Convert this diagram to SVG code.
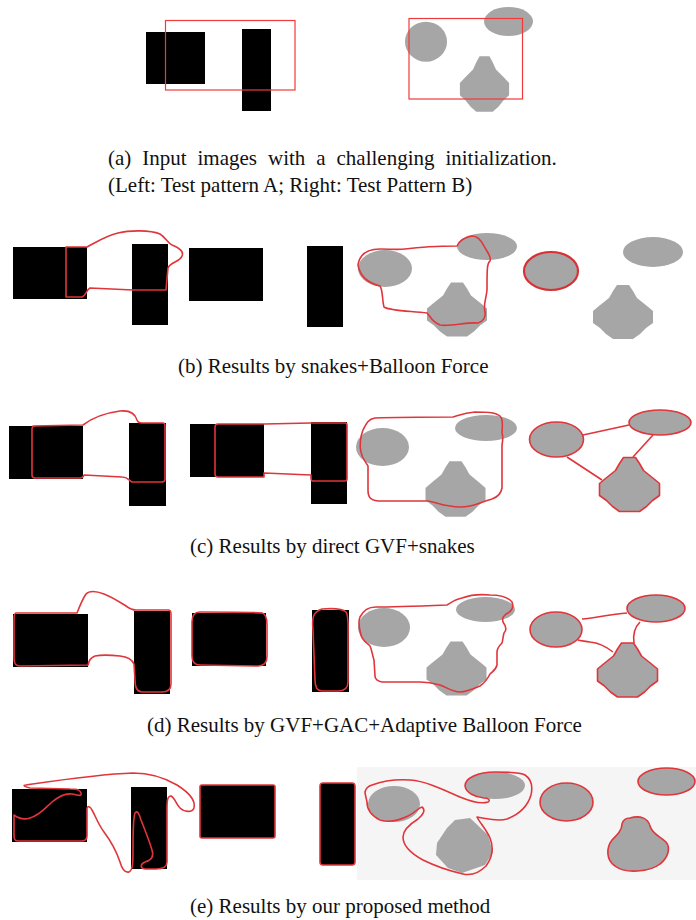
<svg xmlns="http://www.w3.org/2000/svg" width="696" height="920" viewBox="0 0 696 920">
<defs>
<style>
.blk{fill:#000}
.gry{fill:#a6a6a6}
.rc{fill:none;stroke:#e0353a;stroke-width:1.6;stroke-linejoin:round}
.rt{fill:none;stroke:#d93036;stroke-width:2.2;stroke-linejoin:round}
.cap{font-family:"Liberation Serif","Times New Roman",serif;font-size:21px;fill:#111}
</style>
<path id="dia" d="M-6,-27 L6,-27 L10,-21 L14,-14 L24,-6 L30,-1 L30,11 L23,16 L17,22 L10,27 L-10,27 L-17,22 L-23,16 L-30,11 L-30,-1 L-24,-6 L-14,-14 L-10,-21 Z"/>
</defs>
<rect width="696" height="920" fill="#fff"/>

<!-- Row a -->
<g id="a-left">
<rect class="blk" x="146" y="32" width="59" height="52"/>
<rect class="blk" x="242" y="29" width="29" height="82"/>
<rect x="165.5" y="20.5" width="129.5" height="69.5" fill="none" stroke="#f03a3a" stroke-width="1.2"/>
</g>
<g id="a-right">
<ellipse class="gry" cx="426" cy="41.7" rx="21" ry="20"/>
<ellipse class="gry" cx="508.5" cy="21.5" rx="24.5" ry="14.5"/>
<use href="#dia" class="gry" transform="translate(484.5,84) scale(0.82,1.03)"/>
<rect x="409" y="18.5" width="113.5" height="80.5" fill="none" stroke="#f03a3a" stroke-width="1.2"/>
</g>
<text class="cap" x="108" y="165" word-spacing="5.7">(a) Input images with a challenging initialization.</text>
<text class="cap" x="108" y="192">(Left: Test pattern A; Right: Test Pattern B)</text>

<!-- Row b -->
<g id="b1">
<rect class="blk" x="13" y="247" width="74" height="52"/>
<rect class="blk" x="132" y="244" width="36" height="81"/>
<path class="rc" d="M66,247 L87,247 C95,243 105,236 118,233 C130,230 150,230 160,234 C166,238 168,243 172,245 C180,248 184,252 182,256 C180,262 170,262 168,268 L166,290 L133,290 L90,288 C86,290 86,296 82,297 L66,297 Z"/>
</g>
<g id="b2">
<rect class="blk" x="189" y="248" width="74" height="53"/>
<rect class="blk" x="307" y="246" width="36" height="81"/>
</g>
<g id="b3">
<ellipse class="gry" cx="385" cy="268.5" rx="27" ry="18.5"/>
<ellipse class="gry" cx="487" cy="246.5" rx="30" ry="13.5"/>
<use href="#dia" class="gry" transform="translate(457,309.5)"/>
<path class="rc" d="M358,265 C360,252 370,249 380,249 C390,249 398,250 405,249 C420,247 445,246 457,246 C460,240 465,237 472,236 C478,236 481,240 484,246 C487,252 492,257 490,261 C487,263 487,270 487,290 C486,300 483,305 485,312 C486,318 482,322 478,323 C465,322 450,327 440,325 C432,322 430,316 427,313 C410,311 390,311 384,307 C382,300 383,290 380,286 C368,283 360,277 358,265 Z"/>
</g>
<g id="b4">
<ellipse class="gry" cx="551" cy="271" rx="27" ry="19"/>
<ellipse class="rt" cx="551" cy="271" rx="27" ry="19"/>
<ellipse class="gry" cx="653" cy="252" rx="30" ry="15"/>
<use href="#dia" class="gry" transform="translate(623,312)"/>
</g>
<text class="cap" x="178" y="373">(b) Results by snakes+Balloon Force</text>

<!-- Row c -->
<g id="c1">
<rect class="blk" x="9" y="426" width="74" height="53"/>
<rect class="blk" x="129" y="423" width="37" height="83"/>
<path class="rc" d="M33,426 L83,425 C92,418 105,413 120,411 C130,410 135,413 137,420 C138,423 140,423 142,423 L163,423 Q165,423 165,426 L165,479 Q165,482 162,482 L132,482 C128,480 128,477 122,477 L84,475 Q83,478 80,478 L35,478 Q32,478 32,475 L32,429 Q32,426 35,426 Z"/>
</g>
<g id="c2">
<rect class="blk" x="190" y="424" width="74" height="53"/>
<rect class="blk" x="311" y="422" width="36" height="82"/>
<path class="rc" d="M218,424 L264,424 L311,423 L345,423 Q347,423 347,425 L347,479 Q347,481 345,481 L313,481 Q311,481 311,478 L311,475 L264,473 L264,477 L218,477 Q215,477 215,474 L215,427 Q215,424 218,424 Z"/>
</g>
<g id="c3">
<ellipse class="gry" cx="382.5" cy="447" rx="26.5" ry="19"/>
<ellipse class="gry" cx="486" cy="428" rx="31" ry="13"/>
<use href="#dia" class="gry" transform="translate(455.5,489) scale(1,1.03)"/>
<path class="rc" d="M375,418 C400,417 430,417 453,417 C460,415 465,413 475,412 C485,412 495,412 500,416 C504,420 502,428 502,433 C503,436 503,440 502,445 L502,488 C501,494 498,497 492,499 C488,500 485,501 480,503 C470,507 460,508 450,506 C440,505 435,502 428,501 L378,501 C370,500 368,497 368,490 L368,466 C366,462 362,459 361,452 C359,445 361,435 363,430 C366,424 368,419 375,418 Z"/>
</g>
<g id="c4">
<ellipse class="gry" cx="556.5" cy="439.5" rx="27" ry="17.5"/>
<ellipse class="gry" cx="660" cy="422.5" rx="31" ry="12.5"/>
<use href="#dia" class="gry" transform="translate(629.5,484.5)"/>
<ellipse class="rc" cx="556.5" cy="439.5" rx="27" ry="17.5" stroke-width="2"/>
<ellipse class="rc" cx="660" cy="422.5" rx="31" ry="12.5" stroke-width="2"/>
<use href="#dia" class="rc" stroke-width="2" transform="translate(629.5,484.5)"/>
<path class="rc" d="M583,435 L629,425 M653,435 L633,457 M602,480 L567,457"/>
</g>
<text class="cap" x="190" y="553">(c) Results by direct GVF+snakes</text>

<!-- Row d -->
<g id="d1">
<rect class="blk" x="13" y="614" width="75" height="53"/>
<rect class="blk" x="134" y="611" width="36" height="83"/>
<path class="rc" d="M16,613 L77,613 C79,608 82,600 86,594 C90,590 96,591 104,594 C112,597 118,601 126,606 C130,609 132,610 136,610 L168,610 Q171,610 171,614 L171,684 C171,690 168,692 162,692 L142,692 C137,692 135,688 135,680 L134,664 C132,659 128,657 120,656 C110,655 100,655 95,656 C90,658 89,661 88,665 L20,666 C15,666 14,663 14,658 L14,620 C14,615 15,613 16,613 Z"/>
</g>
<g id="d2">
<rect class="blk" x="192" y="613" width="74" height="53"/>
<rect class="blk" x="312" y="610" width="37" height="82"/>
<path class="rc" d="M200,612 C220,612 250,612 262,613 C266,614 267,618 267,625 L267,656 C267,663 264,666 258,666 L200,665 C195,665 192,662 192,656 L192,622 C192,615 195,612 200,612 Z"/>
<path class="rc" d="M322,609 C335,608 343,609 346,612 C349,616 348,625 348,640 L348,682 C348,689 344,691 338,691 L322,691 C316,691 315,686 315,680 L313,630 C312,620 312,612 322,609 Z"/>
</g>
<g id="d3">
<ellipse class="gry" cx="384" cy="627.5" rx="26" ry="19.5"/>
<ellipse class="gry" cx="485.5" cy="609.5" rx="29.5" ry="12.5"/>
<use href="#dia" class="gry" transform="translate(456.5,668.5)"/>
<path class="rc" d="M360,617 C364,610 368,607 376,607 C390,607 420,606 447,605 C452,602 456,599 462,598 C470,595 480,594 490,595 C500,595 508,597 512,602 C514,607 512,611 506,614 C503,617 502,618 503,622 C506,626 507,630 504,633 C503,636 503,640 502,643 C499,646 497,648 497,652 L497,665 C496,670 492,672 490,674 C488,678 486,682 480,686 C473,689 465,692 460,692 C453,692 448,688 440,685 C433,683 428,682 420,682 L382,682 C377,681 375,679 375,676 L374,660 C372,654 372,650 370,646 C366,642 362,640 361,635 C359,628 358,622 360,617 Z"/>
</g>
<g id="d4">
<ellipse class="gry" cx="556" cy="629.5" rx="26" ry="17.5"/>
<ellipse class="gry" cx="656" cy="608.5" rx="29" ry="13.5"/>
<use href="#dia" class="gry" transform="translate(627.5,670)"/>
<ellipse class="rc" cx="556" cy="629.5" rx="26" ry="17.5" stroke-width="2"/>
<ellipse class="rc" cx="656" cy="608.5" rx="29" ry="13.5" stroke-width="2"/>
<use href="#dia" class="rc" stroke-width="2" transform="translate(627.5,670)"/>
<path class="rc" d="M582,619 C595,618 610,614 627,613 M640,622 C634,628 633,636 634,643 M613,652 C608,648 600,643 590,642 C585,641 580,641 578,640"/>
</g>
<text class="cap" x="147" y="732">(d) Results by GVF+GAC+Adaptive Balloon Force</text>

<!-- Row e -->
<g id="e1">
<rect class="blk" x="12" y="789" width="75" height="53"/>
<rect class="blk" x="131" y="787" width="36" height="82"/>
<path class="rc" d="M26,785 C60,780 100,774 133,773 C150,773 165,778 177,785 C188,792 196,800 194,808 C192,813 184,812 180,808 C176,804 175,798 171,796 C167,796 167,802 167,810 L167,862 C167,868 162,869 156,869 L145,869 C140,868 140,864 145,862 C152,860 154,856 152,850 C149,840 145,830 141,820 C139,813 137,810 135,813 C133,818 133,830 133,850 C133,862 133,870 129,872 C125,873 122,869 120,862 C116,850 110,840 104,832 C98,824 95,815 92,810 C90,806 88,806 87,808 L87,836 C87,840 85,841 81,841 L18,841 C14,841 14,838 14,834 L14,815 C18,818 24,820 30,818 C40,815 45,808 52,802 C58,797 65,793 72,794 C78,795 82,797 81,793 C80,790 78,789 70,789 L30,788 C25,787 22,785 26,785 Z"/>
</g>
<g id="e2">
<rect class="blk" x="200" y="785" width="75" height="53"/>
<rect class="rc" x="200" y="785" width="75" height="53" rx="2"/>
<rect x="357" y="767" width="339" height="113" fill="#f5f5f5"/>
<rect class="blk" x="320" y="783" width="35" height="82" rx="3"/>
<rect class="rc" x="320" y="783" width="35" height="82" rx="3"/>
</g>
<g id="e3">
<ellipse class="gry" cx="394" cy="804" rx="26" ry="18"/>
<ellipse class="gry" cx="495" cy="785.5" rx="30" ry="13.5"/>
<path class="gry" d="M455,820 L470,818 L488,835 L493,852 L485,865 L462,873 L448,868 L436,855 L437,843 L447,828 Z"/>
<path class="rc" d="M365,792 C366,788 368,786 372,785 C380,782 395,779 410,780 C425,781 440,788 460,797 C472,802 482,804 488,802 C491,800 488,798 484,798 C475,797 466,793 465,786 C465,778 478,772 495,772 C508,772 520,772 525,775 C531,779 533,786 531,795 C528,805 520,814 507,819 C497,822 485,818 477,817 C480,823 486,829 490,838 C494,848 492,858 486,866 C480,872 472,876 463,874 C450,871 435,866 423,860 C410,853 403,845 403,837 C403,830 410,824 418,819 C423,815 426,810 422,807 C418,808 415,813 408,816 C400,820 390,823 380,820 C372,816 367,810 367,802 C366,797 365,794 365,792 Z"/>
</g>
<g id="e4">
<ellipse class="gry" cx="566.5" cy="802" rx="26.5" ry="19"/>
<ellipse class="rc" cx="566.5" cy="802" rx="26.5" ry="19" stroke-width="2"/>
<ellipse class="gry" cx="666.5" cy="781.5" rx="28.5" ry="13.5"/>
<ellipse class="rc" cx="666.5" cy="781.5" rx="28.5" ry="13.5" stroke-width="2"/>
<path class="gry" d="M630,818 C640,815 648,818 650,826 C652,834 660,836 666,842 C671,848 668,858 660,864 C650,872 625,874 615,866 C606,860 606,848 612,840 C618,834 622,830 622,824 C623,820 626,818 630,818 Z"/>
<path class="rc" stroke-width="2" d="M630,818 C640,815 648,818 650,826 C652,834 660,836 666,842 C671,848 668,858 660,864 C650,872 625,874 615,866 C606,860 606,848 612,840 C618,834 622,830 622,824 C623,820 626,818 630,818 Z"/>
</g>
<text class="cap" x="190" y="913">(e) Results by our proposed method</text>
</svg>
